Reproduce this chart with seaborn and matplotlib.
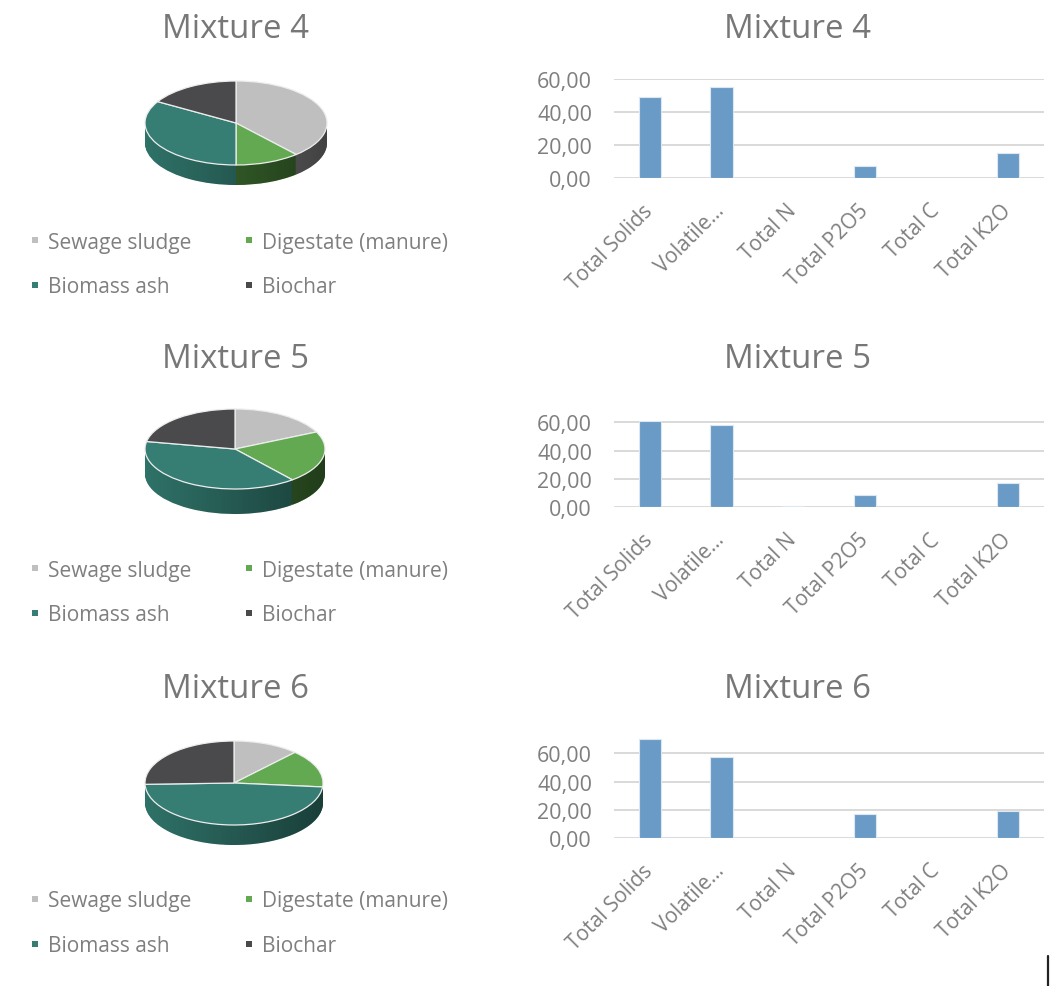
import numpy as np
import matplotlib
matplotlib.use("Agg")
import matplotlib.pyplot as plt
import seaborn as sns
from matplotlib.lines import Line2D
from matplotlib.patches import Polygon
from matplotlib.colors import LinearSegmentedColormap

# ---- data -------------------------------------------------------------
mixtures = ["Mixture 4", "Mixture 5", "Mixture 6"]
components = ["Sewage sludge", "Digestate (manure)", "Biomass ash", "Biochar"]
share_m4 = [38.5, 11.5, 33.5, 16.5]
share_m5 = [18.0, 21.0, 39.0, 22.0]
share_m6 = [12.0, 14.5, 48.0, 25.5]

parameters = ["Total Solids", "Volatile…", "Total N", "Total P2O5", "Total C", "Total K2O"]
values_m4 = [49.5, 55.6, 0.0, 7.1, 0.0, 15.0]
values_m5 = [60.7, 58.4, 0.9, 8.5, 0.0, 17.2]
values_m6 = [70.2, 57.4, 0.0, 16.8, 0.0, 19.1]
y_ticks = [0, 20, 40, 60]

shares = [share_m4, share_m5, share_m6]
values = [values_m4, values_m5, values_m6]

# ---- style ------------------------------------------------------------
sns.set_theme(style="white")
plt.rcParams["font.family"] = ["Open Sans", "DejaVu Sans"]

TEXT = "#7f7f7f"
TITLE = "#777777"
top_colors = ["#BFBFBF", "#62A952", "#367E74", "#4A4A4C"]
side_colors = ["#777777", "#3D6E30", "#2F7268", "#3A3A3C"]
BAR = "#6A9BC6"

W, H = 1064, 987
fig = plt.figure(figsize=(W / 100, H / 100), dpi=100)
fig.patch.set_facecolor("white")


def box(x0, y0, x1, y1):
    return [x0 / W, 1 - y1 / H, (x1 - x0) / W, (y1 - y0) / H]


# per-row placement (pixels)
title_y = [29, 359, 690]
pie_geo = [(236, 124, 91, 42, 20), (235, 450, 90, 40, 25), (234, 784, 89, 42, 20)]
legend_rows = [(243, 288), (571, 616), (902, 946)]
bar_geo = [(80, 179, 60.3), (421.9, 508.3, 61.0), (738.8, 839.0, 71.0)]

shade = LinearSegmentedColormap.from_list(
    "shade", [(0, 0, 0, 0.0), (0, 0, 0, 0.45)])


def draw_pie(row):
    cx, cy, a, b, dpx = pie_geo[row]
    left, right, up, down = 115, 115, 55, b + dpx + 15
    ax = fig.add_axes(box(cx - left, cy - up, cx + right, cy + down))
    depth = dpx / b
    n_layers = 28
    for k in range(n_layers):
        off = -depth + depth * k / n_layers
        ax.pie(shares[row], colors=side_colors, center=(0, off), radius=1,
               startangle=90, counterclock=False,
               wedgeprops=dict(linewidth=0))
    # shading on the rim, lighter at left and darker at right
    t = np.linspace(np.pi, 2 * np.pi, 200)
    rim = np.concatenate([np.c_[np.cos(t), np.sin(t)],
                          np.c_[np.cos(t[::-1]), np.sin(t[::-1]) - depth]])
    clip = Polygon(rim, closed=True, transform=ax.transData,
                   facecolor="none", edgecolor="none")
    ax.add_patch(clip)
    grad = np.linspace(0, 1, 256)[None, :]
    im = ax.imshow(grad, cmap=shade, extent=(-1, 1, -1 - depth, 0),
                   aspect="auto", zorder=2, interpolation="bilinear")
    im.set_clip_path(clip)
    wedges, _ = ax.pie(shares[row], colors=top_colors, radius=1,
                       startangle=90, counterclock=False,
                       wedgeprops=dict(linewidth=0.9, edgecolor="#EDEDED"))
    for w in wedges:
        w.set_zorder(3)
    ax.set_aspect("auto")
    ax.set_xlim(-left / a, right / a)
    ax.set_ylim(-down / b, up / b)
    ax.axis("off")

    # legend under the pie
    handles = [Line2D([], [], ls="none", marker="s", ms=4.2, color=c,
                      markeredgewidth=0) for c in top_colors]
    order = [0, 2, 1, 3]
    r1, r2 = legend_rows[row]
    fig.legend([handles[i] for i in order], [components[i] for i in order],
               ncol=2, loc="center left",
               bbox_to_anchor=(29.8 / W, 1 - (r1 + r2) / 2 / H),
               frameon=False, fontsize=15, labelcolor=TEXT,
               handlelength=0.5, handletextpad=0.39, columnspacing=2.5,
               labelspacing=1.15, borderpad=0, borderaxespad=0)
    fig.text(236 / W, 1 - title_y[row] / H, mixtures[row], ha="center",
             va="center", fontsize=23.8, color=TITLE)


def draw_bars(row):
    top, bottom, ymax = bar_geo[row]
    ax = fig.add_axes(box(614, top, 1044, bottom))
    sns.barplot(x=parameters, y=values[row], ax=ax, color=BAR, saturation=1,
                width=0.31, edgecolor="#DCE7F2", linewidth=0.8)
    ax.set_ylim(0, ymax)
    ax.set_yticks(y_ticks)
    ax.set_yticklabels([f"{v:.2f}".replace(".", ",") for v in y_ticks])
    ax.yaxis.grid(True, color="#D9D9D9", lw=1.4)
    ax.set_axisbelow(True)
    for s in ax.spines.values():
        s.set_visible(False)
    ax.tick_params(axis="y", length=0, pad=15.8, labelsize=15.5, labelcolor=TEXT)
    ax.tick_params(axis="x", length=0, pad=21, labelsize=15, labelcolor=TEXT)
    for lab in ax.get_xticklabels():
        lab.set_rotation(45)
        lab.set_ha("right")
        lab.set_va("center")
        lab.set_rotation_mode("anchor")
    ax.set_xlabel("")
    ax.set_ylabel("")
    fig.text(797 / W, 1 - title_y[row] / H, mixtures[row], ha="center",
             va="center", fontsize=23.8, color=TITLE)


for r in range(3):
    draw_pie(r)
    draw_bars(r)

# thin caret mark at lower right
fig.add_artist(Line2D([1048 / W, 1048 / W], [1 - 957 / H, 1 - 987 / H],
                      color="#222222", lw=1.6))

fig.savefig("out.png", dpi=100, facecolor="white")
